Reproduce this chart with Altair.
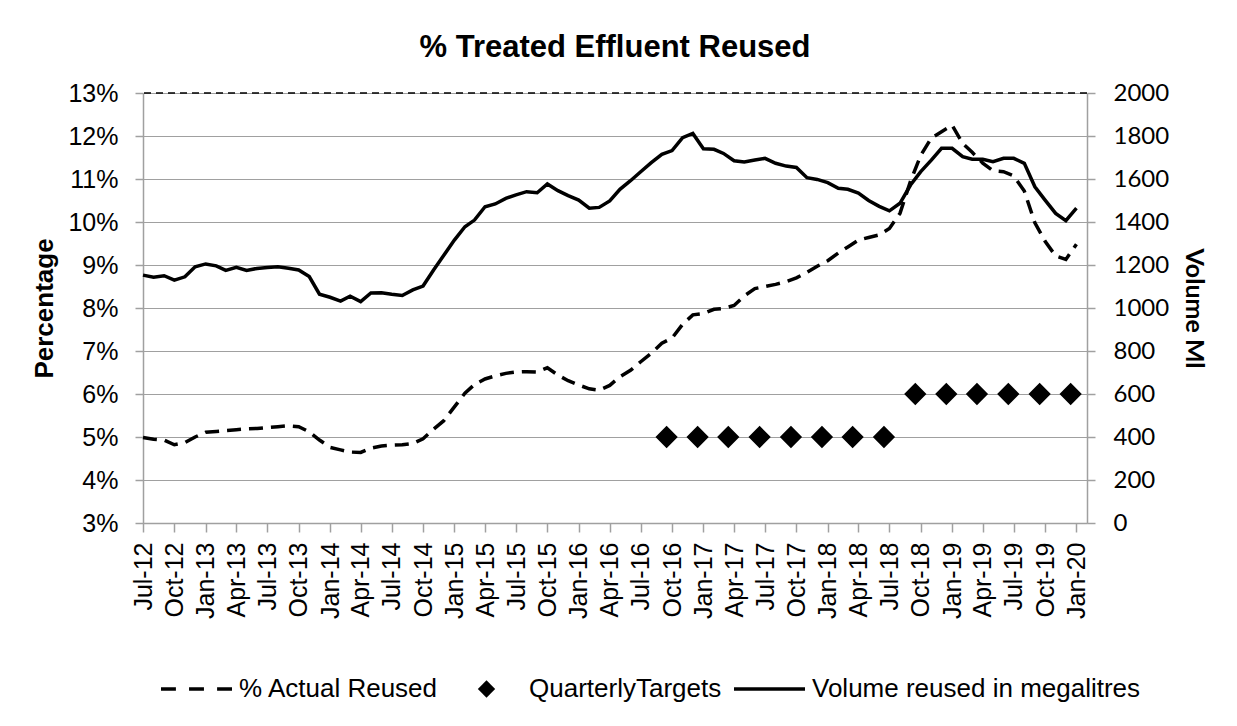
import altair as alt
import pandas as pd

# ---------------- data ----------------
month_starts = pd.date_range("2012-07-01", "2020-01-01", freq="MS")

pct_actual = [
    4.99, 4.95, 4.93, 4.82, 4.87, 5.00, 5.11, 5.13, 5.15, 5.17, 5.19, 5.20,
    5.22, 5.24, 5.26, 5.24, 5.12, 4.93, 4.76, 4.70, 4.65, 4.64, 4.74, 4.79,
    4.81, 4.82, 4.85, 4.96, 5.18, 5.38, 5.70, 6.02, 6.22, 6.35, 6.42, 6.48,
    6.51, 6.52, 6.51, 6.61, 6.44, 6.31, 6.21, 6.12, 6.09, 6.20, 6.40, 6.55,
    6.75, 6.95, 7.18, 7.30, 7.62, 7.84, 7.87, 7.97, 7.99, 8.06, 8.28, 8.45,
    8.50, 8.55, 8.61, 8.70, 8.83, 8.97, 9.10, 9.28, 9.42, 9.58, 9.64, 9.70,
    9.85, 10.20, 10.95, 11.55, 11.95, 12.10, 12.25, 11.83, 11.62, 11.37, 11.19, 11.17,
    11.07, 10.72, 9.98, 9.55, 9.21, 9.13, 9.48,
]

vol_ml = [
    1153, 1143, 1150, 1130, 1145, 1192, 1205, 1196, 1175, 1189, 1175, 1184,
    1188, 1192, 1185, 1177, 1146, 1064, 1050, 1032, 1055, 1030, 1070, 1071,
    1064, 1058, 1084, 1102, 1177, 1245, 1316, 1378, 1409, 1471, 1484, 1510,
    1526, 1541, 1536, 1577, 1546, 1523, 1502, 1464, 1468, 1498, 1552, 1592,
    1634, 1676, 1715, 1732, 1792, 1812, 1741, 1738, 1719, 1685, 1679, 1688,
    1696, 1673, 1660, 1654, 1606, 1598, 1583, 1557, 1552, 1535, 1500, 1473,
    1452, 1487, 1572, 1634, 1688, 1743, 1743, 1704, 1692, 1692, 1681, 1696,
    1696, 1673, 1564, 1502, 1440, 1406, 1464,
]

target_dates = [
    "2016-09-15", "2016-12-15", "2017-03-15", "2017-06-15", "2017-09-15",
    "2017-12-15", "2018-03-15", "2018-06-15", "2018-09-15", "2018-12-15",
    "2019-03-15", "2019-06-15", "2019-09-15", "2019-12-15",
]
target_pct = [5, 5, 5, 5, 5, 5, 5, 5, 6, 6, 6, 6, 6, 6]

series_names = ["% Actual Reused", "QuarterlyTargets", "Volume reused in megalitres"]
tick_dates = month_starts[::3]

# ---------------- tables ----------------
main_df = pd.DataFrame({
    "date": month_starts.strftime("%Y-%m-%d"),
    "pct": pct_actual,
    "vol": vol_ml,
})
target_df = pd.DataFrame({"date": target_dates, "target": target_pct, "series": series_names[1]})
top_df = pd.DataFrame({"top": [13]})

FONT = "Liberation Sans"
GRID = "#a0a0a0"


def dt(ts):
    return alt.DateTime(year=int(ts.year), month=int(ts.month), date=int(ts.day), utc=True)


x_enc = alt.X(
    "date:T",
    title=None,
    scale=alt.Scale(type="utc", domain=[dt(pd.Timestamp("2012-07-01")), dt(pd.Timestamp("2020-02-01"))]),
    axis=alt.Axis(
        values=[dt(t) for t in tick_dates],
        labelExpr="utcFormat(datum.value, '%b-%y')",
        labelAngle=-90,
        labelFont=FONT,
        labelFontSize=25,
        labelColor="black",
        labelPadding=10,
        tickSize=9,
        tickColor=GRID,
        tickWidth=1.5,
        domainColor=GRID,
        domainWidth=1.5,
        grid=False,
        labelOverlap=False,
        labelFlush=False,
    ),
)

pct_scale = alt.Scale(domain=[3, 13], nice=False, zero=False)

pct_axis = alt.Axis(
    values=list(range(3, 14)),
    labelExpr="datum.value + '%'",
    title="Percentage",
    titleFont=FONT,
    titleFontSize=26,
    titleFontWeight="bold",
    titleColor="black",
    titlePadding=10,
    labelFont=FONT,
    labelFontSize=25,
    labelColor="black",
    labelPadding=17,
    tickSize=8,
    tickColor=GRID,
    tickWidth=1.5,
    domainColor=GRID,
    domainWidth=1.5,
    grid=True,
    gridColor=GRID,
    gridWidth=1.2,
)

legend_def = alt.Legend(
    title=None,
    orient="none",
    legendX=17,
    legendY=583,
    direction="horizontal",
    columns=3,
    clipHeight=26,
    labelFont=FONT,
    labelFontSize=26,
    labelColor="black",
    labelLimit=600,
    labelOffset=6,
    columnPadding=11,
    symbolFillColor="black",
    symbolStrokeColor="black",
)

# legend glyphs: dashed bar, diamond, solid bar (paths in a -1..1 box)
DASHED_GLYPH = ("M-1,-0.05H-0.58V0.05H-1Z M-0.21,-0.05H0.21V0.05H-0.21Z "
                "M0.58,-0.05H1V0.05H0.58Z")
SOLID_GLYPH = "M-1,-0.05H1V0.05H-1Z"
shape_scale = alt.Scale(domain=series_names, range=[DASHED_GLYPH, "diamond", SOLID_GLYPH])
size_scale = alt.Scale(type="ordinal", domain=series_names, range=[5041, 300, 5041])

base = alt.Chart(main_df)

targets = alt.Chart(target_df).mark_point(
    filled=True, fill="black", stroke="black", strokeWidth=3.5, opacity=1
).encode(
    x=x_enc,
    y=alt.Y("target:Q", scale=pct_scale, axis=pct_axis),
    shape=alt.Shape("series:N", scale=shape_scale, legend=legend_def),
    size=alt.Size("series:N", scale=size_scale, legend=legend_def),
)

pct_line = base.mark_line(color="black", strokeWidth=3.5, strokeDash=[14, 8]).encode(
    x=x_enc,
    y=alt.Y("pct:Q", scale=pct_scale, axis=pct_axis),
)

top_rule = alt.Chart(top_df).mark_rule(color="black", strokeWidth=1.6, strokeDash=[7, 5]).encode(
    y=alt.Y("top:Q", scale=pct_scale, axis=pct_axis)
)

left_layer = alt.layer(targets, pct_line, top_rule)

vol_line = base.mark_line(color="black", strokeWidth=3.5).encode(
    x=x_enc,
    y=alt.Y(
        "vol:Q",
        scale=alt.Scale(domain=[0, 2000], nice=False),
        axis=alt.Axis(
            orient="right",
            values=list(range(0, 2001, 200)),
            format="d",
            title="Volume Ml",
            titleFont="Lato",
            titleFontSize=25,
            titleFontWeight="bold",
            titleColor="black",
            titlePadding=12,
            labelFont="Lato",
            labelFontSize=24,
            labelColor="black",
            labelPadding=18,
            tickSize=8,
            tickColor=GRID,
            tickWidth=1.5,
            domainColor=GRID,
            domainWidth=1.5,
            grid=False,
        ),
    ),
)

chart = (
    alt.layer(left_layer, vol_line)
    .resolve_scale(y="independent")
    .properties(
        width=944,
        height=430,
        title=alt.TitleParams(
            "% Treated Effluent Reused",
            font=FONT,
            fontSize=31,
            fontWeight="bold",
            color="black",
            anchor="middle",
            offset=17,
        ),
        autosize=alt.AutoSizeParams(type="none"),
        padding={"left": 135, "top": 85, "right": 142, "bottom": 195},
        background="white",
    )
    .configure_view(stroke=None)
)

chart.save("out.html", embed_options={"renderer": "svg", "actions": False})
